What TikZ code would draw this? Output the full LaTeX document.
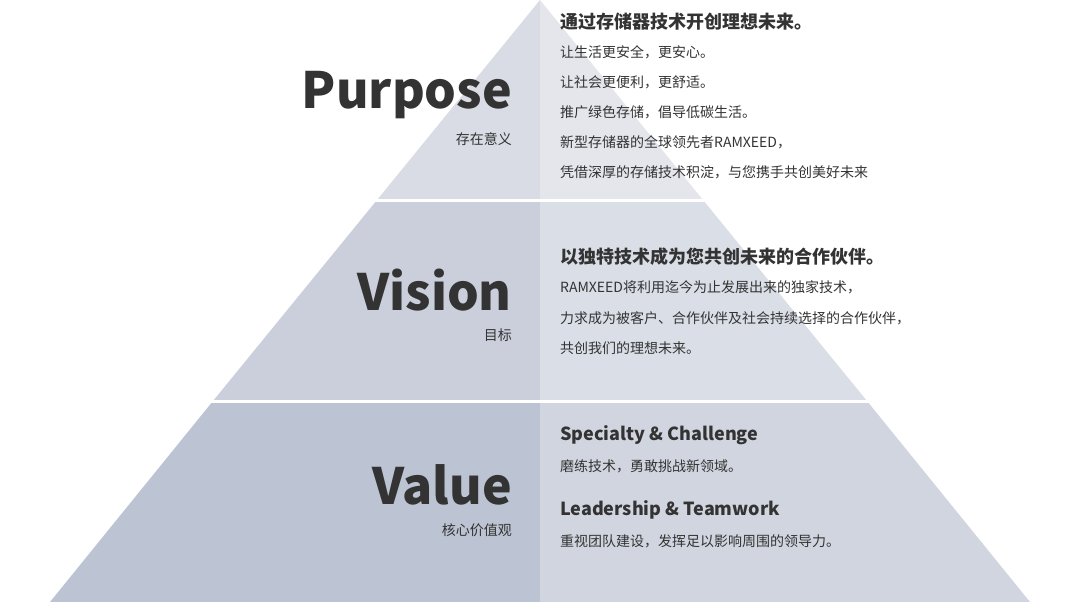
\documentclass[tikz,border=0pt]{standalone}
\usepackage{fontspec}
\setmainfont{Noto Sans CJK SC}
\definecolor{tl}{HTML}{D9DCE4}\definecolor{tr}{HTML}{E4E6EC}
\definecolor{ml}{HTML}{CACFDB}\definecolor{mr}{HTML}{DADEE6}
\definecolor{bl}{HTML}{BCC3D2}\definecolor{br}{HTML}{D1D5DF}
\definecolor{txt}{HTML}{333333}
\tikzset{
 big/.style={anchor=east,font=\fontsize{50}{50}\selectfont\bfseries,text=txt,inner sep=0},
 sub/.style={anchor=east,font=\fontsize{14}{14}\selectfont,text=txt,inner sep=0},
 head/.style={anchor=west,font=\fontsize{18}{18}\selectfont\bfseries,text=txt,inner sep=0},
 body/.style={anchor=west,font=\fontsize{14}{14}\selectfont,text=txt,inner sep=0},
 sep/.style={white,line width=3pt}}
\begin{document}
\begin{tikzpicture}[x=1pt,y=-1pt]
\useasboundingbox (0,0) rectangle (1080,602);
\fill[tl] (540,0) -- (377,200) -- (540,200) -- cycle;
\fill[tr] (540,0) -- (703,200) -- (540,200) -- cycle;
\fill[ml] (377,200) -- (213,401) -- (540,401) -- (540,200) -- cycle;
\fill[mr] (703,200) -- (867,401) -- (540,401) -- (540,200) -- cycle;
\fill[bl] (213,401) -- (50,602) -- (540,602) -- (540,401) -- cycle;
\fill[br] (867,401) -- (1030,602) -- (540,602) -- (540,401) -- cycle;
\draw[sep] (360,200) -- (720,200);
\draw[sep] (190,401) -- (890,401);
\node[big] (p) at (512,95) {Purpose};
\node[sub] (ps) at (512,139) {存在意义};
\node[big] (v) at (512,290) {Vision};
\node[sub] (vs) at (512,335) {目标};
\node[big] (va) at (512,485) {Value};
\node[sub] (vas) at (512,530) {核心价值观};
\node[head] (h1) at (560,22) {通过存储器技术开创理想未来。};
\node[body] (a1) at (560,52) {让生活更安全，更安心。};
\node[body] (a2) at (560,82) {让社会更便利，更舒适。};
\node[body] (a3) at (560,112) {推广绿色存储，倡导低碳生活。};
\node[body] (a4) at (560,142) {新型存储器的全球领先者RAMXEED，};
\node[body] (a5) at (560,172) {凭借深厚的存储技术积淀，与您携手共创美好未来};
\node[head] (h2) at (560,257) {以独特技术成为您共创未来的合作伙伴。};
\node[body] (b1) at (560,287) {RAMXEED将利用迄今为止发展出来的独家技术，};
\node[body] (b2) at (560,318) {力求成为被客户、合作伙伴及社会持续选择的合作伙伴，};
\node[body] (b3) at (560,348) {共创我们的理想未来。};
\node[head] (h3) at (560,435) {Specialty \& Challenge};
\node[body] (c1) at (560,466) {磨练技术，勇敢挑战新领域。};
\node[head] (h4) at (560,510) {Leadership \& Teamwork};
\node[body] (c2) at (560,541) {重视团队建设，发挥足以影响周围的领导力。};
\end{tikzpicture}
\end{document}
